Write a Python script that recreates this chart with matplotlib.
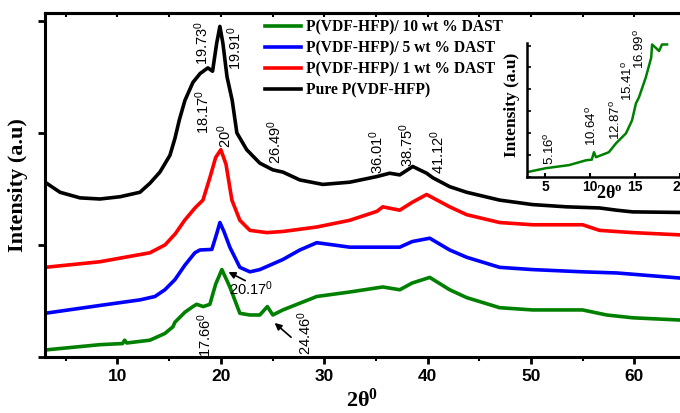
# XRD patterns of P(VDF-HFP) films with DAST loading, inset = 10 wt% low angle
import matplotlib
matplotlib.use("Agg")
import matplotlib.pyplot as plt
from matplotlib.ticker import MultipleLocator

plt.rcParams["mathtext.default"] = "regular"

# ---- data (2theta in degrees, intensity in stacked arbitrary units) ----
pure_x = [3.0, 4.45, 6.38, 8.31, 10.25, 12.18, 13.14, 14.11, 15.08, 15.56, 16.0, 16.53,
          17.3, 18.0, 18.75, 19.2, 19.6, 19.91, 20.2, 20.6, 21.1, 21.55, 22.5, 23.77,
          25.03, 26.0, 27.64, 29.86, 32.47, 35.08, 36.33, 37.3, 38.56, 39.9, 40.49,
          42.13, 43.77, 46.96, 50.15, 53.43, 56.62, 58.27, 59.81, 64.35]
pure_y = [1.56, 1.47, 1.42, 1.41, 1.43, 1.47, 1.55, 1.65, 1.80, 1.95, 2.12, 2.29,
          2.45, 2.53, 2.58, 2.55, 2.80, 2.95, 2.80, 2.50, 2.29, 2.00, 1.85, 1.73,
          1.67, 1.65, 1.58, 1.54, 1.56, 1.61, 1.64, 1.625, 1.70, 1.64, 1.60,
          1.52, 1.47, 1.40, 1.36, 1.34, 1.33, 1.31, 1.295, 1.29]

d1_x = [3.0, 8.31, 13.14, 14.6, 15.6, 16.5, 17.5, 18.27, 18.94, 19.5, 20.0, 20.5,
        21.07, 21.84, 22.81, 24.45, 26.0, 29.28, 32.47, 35.1, 35.66, 37.3, 38.5,
        39.9, 42.13, 43.77, 46.96, 50.15, 54.98, 56.62, 59.81, 64.35]
d1_y = [0.80, 0.85, 0.93, 1.0, 1.10, 1.22, 1.33, 1.40, 1.60, 1.78, 1.85, 1.72,
        1.40, 1.22, 1.13, 1.11, 1.12, 1.16, 1.22, 1.30, 1.34, 1.31, 1.38,
        1.45, 1.34, 1.27, 1.20, 1.18, 1.18, 1.13, 1.11, 1.09]

d5_x = [3.0, 8.31, 12.2, 13.63, 14.59, 15.56, 16.53, 17.49, 17.98, 19.13, 19.6, 19.91,
        20.3, 20.87, 21.84, 22.81, 23.77, 26.0, 27.64, 29.28, 32.47, 35.66, 37.3,
        38.5, 40.2, 42.13, 43.77, 46.96, 50.15, 54.98, 58.27, 64.35]
d5_y = [0.39, 0.46, 0.51, 0.54, 0.60, 0.69, 0.82, 0.93, 0.955, 0.96, 1.10, 1.20,
        1.12, 0.98, 0.80, 0.76, 0.78, 0.87, 0.955, 1.02, 0.98, 0.98, 0.98,
        1.03, 1.06, 0.955, 0.89, 0.80, 0.78, 0.76, 0.75, 0.705]

d10_x = [3.0, 8.31, 10.5, 10.7, 10.9, 13.14, 13.63, 14.59, 15.37, 15.56, 16.53, 17.3,
         17.66, 18.3, 18.94, 19.5, 20.1, 20.6, 20.87, 21.84, 22.81, 23.77, 24.5,
         25.03, 26.0, 27.64, 29.28, 32.47, 35.66, 37.3, 38.5, 40.2, 42.13, 43.77,
         46.96, 50.15, 54.98, 57.3, 59.81, 64.35]
d10_y = [0.0625, 0.11, 0.12, 0.15, 0.125, 0.15, 0.17, 0.21, 0.27, 0.31, 0.40, 0.45,
         0.47, 0.45, 0.47, 0.65, 0.78, 0.68, 0.625, 0.39, 0.375, 0.375, 0.45,
         0.375, 0.42, 0.48, 0.54, 0.58, 0.625, 0.60, 0.66, 0.71, 0.60, 0.53,
         0.44, 0.42, 0.42, 0.375, 0.35, 0.33]

inset_x = [3.0, 5.1, 7.67, 9.56, 10.2, 10.44, 10.67, 12.1, 12.9, 14.0, 14.67,
           15.1, 15.44, 16.2, 16.8, 16.9, 17.3, 17.67, 18.0, 18.56]
inset_y = [0.23, 0.41, 0.55, 0.77, 0.80, 1.14, 0.91, 1.14, 1.55, 2.0, 2.59,
           3.36, 3.64, 4.55, 5.45, 6.05, 5.9, 5.75, 6.05, 6.05]

labels = ["P(VDF-HFP)/ 10 wt % DAST", "P(VDF-HFP)/ 5 wt % DAST",
          "P(VDF-HFP)/ 1 wt % DAST", "Pure P(VDF-HFP)"]
colors = ["#008000", "#0000ff", "#ff0000", "#000000"]

# peak labels: (text, x, y)
peaks = [("19.73$^0$", 18.17, 2.80), ("19.91$^0$", 21.36, 2.76), ("18.17$^0$", 18.27, 2.19),
         ("20$^0$", 20.39, 1.97), ("26.49$^0$", 25.22, 1.92), ("36.01$^0$", 35.08, 1.83),
         ("38.75$^0$", 37.98, 1.89), ("41.12$^0$", 40.97, 1.83),
         ("17.66$^0$", 18.46, 0.20), ("24.46$^0$", 28.12, 0.21)]
inset_peaks = [("5.16$^o$", 5.6, 1.3), ("10.64$^o$", 10.2, 2.35), ("12.87$^o$", 12.9, 2.6),
               ("15.41$^o$", 14.2, 4.4), ("16.99$^o$", 15.6, 5.85)]

sans = ["Liberation Sans", "DejaVu Sans"]
serif = ["Liberation Serif", "DejaVu Serif"]

fig = plt.figure(figsize=(6.8, 4.13), dpi=100)
ax = fig.add_axes([0.0662, 0.1356, 0.9338, 0.833])

series = [(d10_x, d10_y), (d5_x, d5_y), (d1_x, d1_y), (pure_x, pure_y)]
for (xs, ys), c, lab in zip(series, colors, labels):
    ax.plot(xs, ys, color=c, lw=2.6, label=lab, solid_joinstyle="round")

ax.set_xlim(3, 64.4)
ax.set_ylim(0, 3.07)

for s in ["left", "bottom", "top"]:
    ax.spines[s].set_linewidth(2.2)
ax.spines["right"].set_visible(False)

ax.xaxis.set_major_locator(MultipleLocator(10))
ax.xaxis.set_minor_locator(MultipleLocator(5))
ax.yaxis.set_major_locator(MultipleLocator(1))
ax.tick_params(axis="x", which="major", direction="out", length=5, width=2, pad=4)
ax.tick_params(axis="x", which="minor", direction="out", length=3, width=1.5)
ax.tick_params(axis="y", which="major", direction="out", length=5, width=2, labelleft=False)
for t in ax.get_xticklabels():
    t.set_fontfamily(sans)
    t.set_fontweight("bold")
    t.set_fontsize(12.5)

top = ax.secondary_xaxis("top")
top.xaxis.set_major_locator(MultipleLocator(10))
top.xaxis.set_minor_locator(MultipleLocator(5))
top.tick_params(which="both", direction="in", length=3, width=1.5, labeltop=False)
top.spines["top"].set_linewidth(2.2)

ax.set_xlabel("2θ$^0$", family=serif, fontweight="bold", fontsize=16, labelpad=3)
ax.set_ylabel("Intensity (a.u)", family=serif, fontweight="bold", fontsize=16, labelpad=7)

for txt, x, y in peaks:
    ax.text(x, y, txt, rotation=90, ha="center", va="center", family=sans, fontsize=10.5)

ax.text(22.9, 0.61, "20.17$^0$", ha="center", va="center", family=sans, fontsize=10.5)
ax.annotate("", xy=(20.5, 0.77), xytext=(22.6, 0.67),
            arrowprops=dict(arrowstyle="-|>", color="black", lw=1.2, mutation_scale=10))
ax.annotate("", xy=(25.0, 0.32), xytext=(27.0, 0.16),
            arrowprops=dict(arrowstyle="-|>", color="black", lw=1.2, mutation_scale=10))

handles, labs = ax.get_legend_handles_labels()
ax.legend(handles, labs, loc="upper left", bbox_to_anchor=(0.39, 0.952),
          bbox_transform=fig.transFigure, frameon=False, handlelength=2.3,
          handletextpad=0.3, labelspacing=0.32, borderpad=0, borderaxespad=0,
          prop=dict(family=serif, weight="bold", size=11.2))

# inset
ins = fig.add_axes([0.775, 0.571, 0.225, 0.324])
ins.patch.set_alpha(0)
ins.plot(inset_x, inset_y, color="#008000", lw=1.8)
ins.set_xlim(3, 20)
ins.set_ylim(0, 6.1)
ins.spines["top"].set_visible(False)
ins.spines["right"].set_visible(False)
ins.spines["left"].set_linewidth(1.8)
ins.spines["bottom"].set_linewidth(1.8)
ins.xaxis.set_major_locator(MultipleLocator(5))
ins.yaxis.set_major_locator(MultipleLocator(1))
ins.tick_params(axis="x", direction="in", length=3, width=1.5, pad=2)
ins.tick_params(axis="y", direction="in", length=3, width=1.2, labelleft=False)
for t in ins.get_xticklabels():
    t.set_fontfamily(sans)
    t.set_fontweight("bold")
    t.set_fontsize(10)
ins.set_xlabel("2θ$^o$", family=serif, fontweight="bold", fontsize=13)
ins.xaxis.set_label_coords(0.54, -0.06)
ins.set_ylabel("Intensity (a.u)", family=serif, fontweight="bold", fontsize=12.5)
ins.yaxis.set_label_coords(-0.045, 0.54)
for txt, x, y in inset_peaks:
    ins.text(x, y, txt, rotation=90, ha="center", va="center", family=sans, fontsize=9.5)

fig.savefig("out.png", dpi=100)
